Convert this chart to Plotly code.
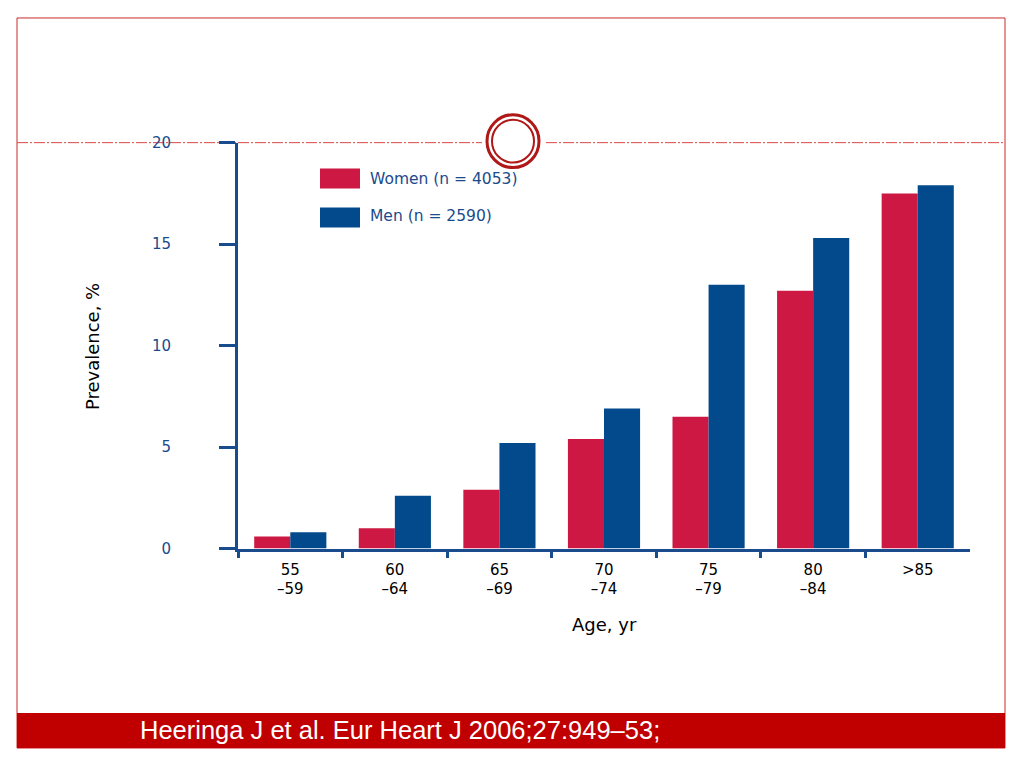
import plotly.graph_objects as go

W, H = 1023, 767
TOP, AREA = 8, 751  # effective drawing band of the page, in pixels

categories = ["55<br>–59", "60<br>–64", "65<br>–69", "70<br>–74", "75<br>–79", "80<br>–84", ">85"]
women = [0.6, 1.0, 2.9, 5.4, 6.5, 12.7, 17.5]
men = [0.8, 2.6, 5.2, 6.9, 13.0, 15.3, 17.9]
boundary_ticks = [-0.5, 0.5, 1.5, 2.5, 3.5, 4.5, 5.5]
y_ticks = [0, 5, 10, 15, 20]

RED = "#cc1843"
BLUE = "#024a8c"
AXIS = "#1a4b8c"
FONT = "DejaVu Sans"


def px(x):
    return x / W


def py(y):
    return 1 - (y - TOP) / AREA


fig = go.Figure()
fig.add_trace(go.Bar(x=categories, y=women, name="Women (n = 4053)", marker_color=RED,
                     marker_line_width=0, showlegend=False))
fig.add_trace(go.Bar(x=categories, y=men, name="Men (n = 2590)", marker_color=BLUE,
                     marker_line_width=0, showlegend=False))
# invisible trace to host boundary ticks
fig.add_trace(go.Scatter(x=[-0.5, 6.5], y=[0, 0], xaxis="x2", mode="lines",
                         line=dict(width=0), hoverinfo="skip", showlegend=False))

fig.update_layout(
    width=W, height=H,
    margin=dict(l=0, r=0, t=0, b=0),
    plot_bgcolor="white", paper_bgcolor="white",
    barmode="group", bargap=0.31, bargroupgap=0,
    font=dict(family=FONT, size=15, color="black"),
    xaxis=dict(domain=[px(238), px(970)], showline=True, linecolor=AXIS, linewidth=3,
               ticks="", showgrid=False, tickfont=dict(size=15, color="black"),
               ticklabelstandoff=5, range=[-0.5, 6.5]),
    xaxis2=dict(domain=[px(238), px(970)], overlaying="x", anchor="y", side="bottom",
                range=[-0.5, 6.5], tickvals=boundary_ticks, showticklabels=False,
                ticks="outside", ticklen=8, tickwidth=3, tickcolor=AXIS, showgrid=False,
                zeroline=False, showline=False),
    yaxis=dict(domain=[py(549), py(142)], range=[0, 20], tickvals=y_ticks,
               showline=True, linecolor=AXIS, linewidth=3, ticks="outside", ticklen=16,
               tickwidth=3, tickcolor=AXIS, showgrid=False, zeroline=False,
               tickfont=dict(size=15, color=AXIS), ticklabelstandoff=45),
)

DASH = "11px,2px,2px,2px"
shapes = [
    # slide border
    dict(type="rect", xref="paper", yref="paper", x0=px(17), x1=px(1005), y0=py(749), y1=py(17),
         line=dict(color="#cc2a2a", width=1), layer="below"),
    # footer band
    dict(type="rect", xref="paper", yref="paper", x0=px(17), x1=px(1005), y0=py(749), y1=py(714),
         fillcolor="#c00000", line=dict(width=0), layer="below"),
    # dash-dot rule
    dict(type="line", xref="paper", yref="paper", x0=px(17), x1=px(482), y0=py(142), y1=py(142),
         line=dict(color="#d84a4a", width=1, dash=DASH), layer="below"),
    dict(type="line", xref="paper", yref="paper", x0=px(546), x1=px(1005), y0=py(142), y1=py(142),
         line=dict(color="#d84a4a", width=1, dash=DASH), layer="below"),
    # double circle
    dict(type="circle", xref="paper", yref="paper", x0=px(487), x1=px(539), y0=py(167), y1=py(114),
         line=dict(color="#b01818", width=3)),
    dict(type="circle", xref="paper", yref="paper", x0=px(492), x1=px(534), y0=py(162), y1=py(119),
         line=dict(color="#b01818", width=2)),
    # legend swatches
    dict(type="rect", xref="paper", yref="paper", x0=px(320), x1=px(360), y0=py(188), y1=py(168),
         fillcolor=RED, line=dict(width=0)),
    dict(type="rect", xref="paper", yref="paper", x0=px(320), x1=px(360), y0=py(227), y1=py(207),
         fillcolor=BLUE, line=dict(width=0)),
]
fig.update_layout(shapes=shapes)

annotations = [
    dict(text="Women (n = 4053)", x=px(368), y=py(178), xref="paper", yref="paper",
         xanchor="left", yanchor="middle", showarrow=False, font=dict(size=15.5, color=AXIS)),
    dict(text="Men (n = 2590)", x=px(368), y=py(216), xref="paper", yref="paper",
         xanchor="left", yanchor="middle", showarrow=False, font=dict(size=15.5, color=AXIS)),
    dict(text="Prevalence, %", x=px(92), y=py(347), xref="paper", yref="paper", textangle=-90,
         xanchor="center", yanchor="middle", showarrow=False, font=dict(size=18, color="black")),
    dict(text="Age, yr", x=px(604), y=py(625), xref="paper", yref="paper",
         xanchor="center", yanchor="middle", showarrow=False, font=dict(size=18, color="black")),
    dict(text="Heeringa J et al. Eur Heart J 2006;27:949–53;", x=px(138), y=py(731),
         xref="paper", yref="paper", xanchor="left", yanchor="middle", showarrow=False,
         font=dict(family="Liberation Sans", size=25.5, color="white")),
]
fig.update_layout(annotations=annotations)

fig.write_html("out.html")
